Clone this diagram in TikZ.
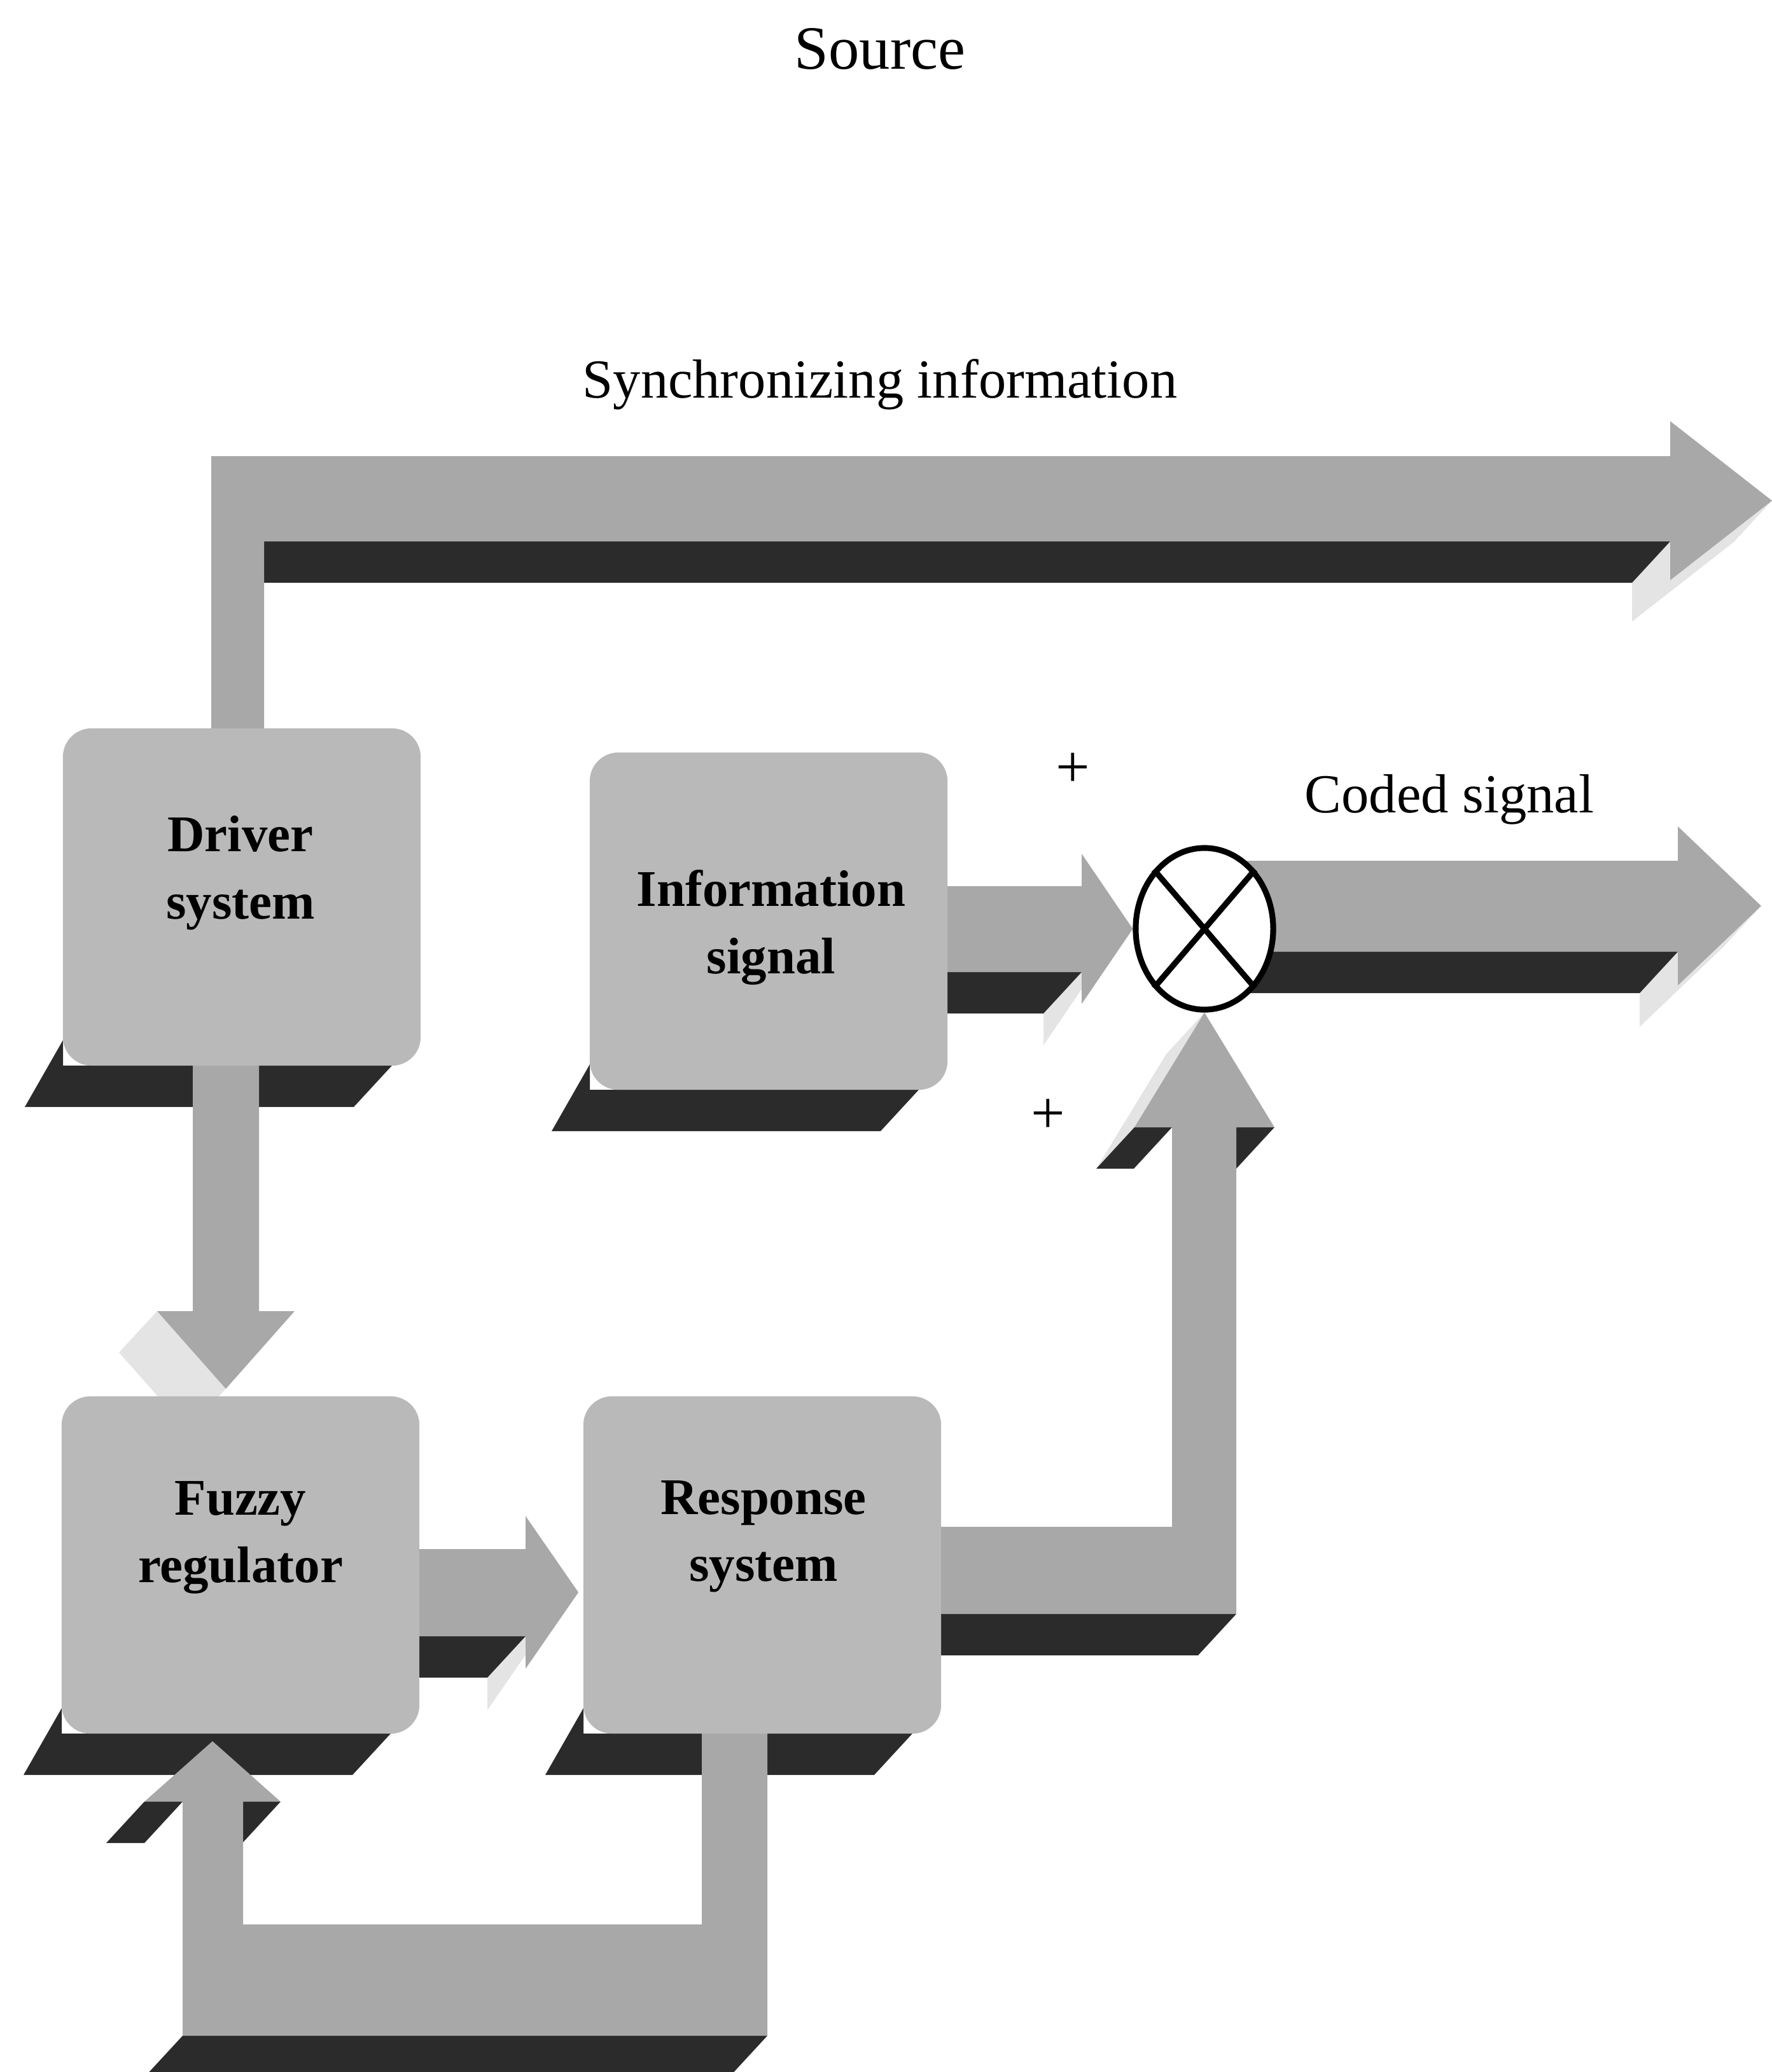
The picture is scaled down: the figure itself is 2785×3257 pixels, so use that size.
\documentclass[tikz,border=0pt]{standalone}
\usepackage{fontspec}
\setmainfont{Liberation Serif}
\usepackage{xcolor}
\usepackage{tikz}
\usetikzlibrary{shapes.geometric}
\definecolor{boxgrey}{HTML}{B9B9B9}
\definecolor{bandgrey}{HTML}{A8A8A8}
\definecolor{undergrey}{HTML}{2B2B2B}
\definecolor{litgrey}{HTML}{E4E4E4}
\pgfdeclarelayer{back}
\pgfdeclarelayer{mid}
\pgfsetlayers{back,mid,main}

\begin{document}
\begin{tikzpicture}[
  x=0.01cm, y=-0.01cm,
  box/.style={rectangle, rounded corners=0.45cm, fill=boxgrey, minimum width=5.62cm, minimum height=5.3cm, inner sep=0pt},
  lbl/.style={align=center, font=\fontsize{23}{30}\selectfont\bfseries},
  txt/.style={font=\fontsize{24.6}{30}\selectfont},
  mult/.style={ellipse, draw=black, line width=2.6pt, fill=white, minimum width=2.16cm, minimum height=2.54cm, inner sep=0pt},
  face/.style={fill=bandgrey},
  under/.style={fill=undergrey},
  lit/.style={fill=litgrey}
]
\useasboundingbox (0,0) rectangle (2785,3257);

\node[box] (drv) at (380,1410) {};
\node[box] (inf) at (1208,1448) {};
\node[box] (fuz) at (378,2460) {};
\node[box] (rsp) at (1198,2460) {};
\node[mult] (mul) at (1893,1460) {};
\draw[line width=2.6pt] (mul.north west) -- (mul.south east);
\draw[line width=2.6pt] (mul.north east) -- (mul.south west);

\node[lbl] (drvtxt) at (378,1372) {Driver\\system};
\node[lbl] (inftxt) at (1212,1458) {Information\\signal};
\node[lbl] (fuztxt) at (378,2417) {Fuzzy\\regulator};
\node[lbl] (rsptxt) at (1200,2415) {Response\\system};

\node[txt, font=\fontsize{27.5}{33}\selectfont] (src) at (1383,77) {Source};
\node[txt] (sync) at (1383,604) {Synchronizing information};
\node[txt] (coded) at (2278,1257) {Coded signal};
\node[txt, font=\fontsize{27}{30}\selectfont] (plusa) at (1686,1211) {+};
\node[txt, font=\fontsize{27}{30}\selectfont] (plusb) at (1647,1755) {+};

\begin{pgfonlayer}{back}
\fill[lit] (2625,851) -- (2625,912) -- (2785,787) -- (2725,852) -- (2565,977) -- (2565,916) -- cycle;
\fill[lit] (1700,1528) -- (1700,1578) -- (mul.west) -- ++(-60,65) -- (1640,1643) -- (1640,1593) -- cycle;
\fill[lit] (2637,1496) -- (2637,1549) -- (2768,1424) -- (2708,1489) -- (2577,1614) -- (2577,1561) -- cycle;
\fill[lit] (303,2061) -- (247,2061) -- (187,2126) -- (295,2248) -- (355,2183) -- cycle;
\fill[lit] (826,2572) -- (826,2623) -- (909,2503) -- (849,2568) -- (766,2688) -- (766,2637) -- cycle;
\fill[lit] (1783,1772) -- (mul.south) -- ++(-60,65) -- (1723,1837) -- cycle;
\fill[lit] (227,2832) -- (334,2737) -- (274,2802) -- (167,2897) -- cycle;

\fill[under] (99,1635) -- (99,1675) -- (616,1675) -- (556,1740) -- (39,1740) -- cycle;
\fill[under] (927,1673) -- (927,1713) -- (1444,1713) -- (1384,1778) -- (867,1778) -- cycle;
\fill[under] (97,2685) -- (97,2725) -- (614,2725) -- (554,2790) -- (37,2790) -- cycle;
\fill[under] (917,2685) -- (917,2725) -- (1434,2725) -- (1374,2790) -- (857,2790) -- cycle;

\fill[under] (332,851) -- (2625,851) -- (2565,916) -- (332,916) -- cycle;
\fill[under] (1470,1528) -- (1700,1528) -- (1640,1593) -- (1470,1593) -- cycle;
\fill[under] (1893,1496) -- (2637,1496) -- (2577,1561) -- (1893,1561) -- cycle;
\fill[under] (640,2572) -- (826,2572) -- (766,2637) -- (640,2637) -- cycle;
\fill[under] (1460,2537) -- (1943,2537) -- (1883,2602) -- (1460,2602) -- cycle;
\fill[under] (1783,1772) -- (1842,1772) -- (1782,1837) -- (1723,1837) -- cycle;
\fill[under] (1943,1772) -- (2003,1772) -- (1943,1837) -- (1883,1837) -- cycle;
\fill[under] (287,3200) -- (1206,3200) -- (1146,3265) -- (227,3265) -- cycle;
\fill[under] (227,2832) -- (287,2832) -- (227,2897) -- (167,2897) -- cycle;
\fill[under] (382,2832) -- (441,2832) -- (381,2897) -- (322,2897) -- cycle;
\end{pgfonlayer}

\begin{pgfonlayer}{mid}
\fill[face] (332,717) -- (2625,717) -- (2625,662) -- (2785,787) -- (2625,912) -- (2625,851) -- (415,851) -- (415,1200) -- (332,1200) -- cycle;
\fill[face] (303,1640) -- (407,1640) -- (407,2061) -- (463,2061) -- (355,2183) -- (247,2061) -- (303,2061) -- cycle;
\fill[face] (1470,1393) -- (1700,1393) -- (1700,1342) -- (mul.west) -- (1700,1578) -- (1700,1528) -- (1470,1528) -- cycle;
\fill[face] (1893,1353) -- (2637,1353) -- (2637,1299) -- (2768,1424) -- (2637,1549) -- (2637,1496) -- (1893,1496) -- cycle;
\fill[face] (640,2435) -- (826,2435) -- (826,2383) -- (909,2503) -- (826,2623) -- (826,2572) -- (640,2572) -- cycle;
\fill[face] (1460,2400) -- (1842,2400) -- (1842,1772) -- (1783,1772) -- (mul.south) -- (2003,1772) -- (1943,1772) -- (1943,2537) -- (1460,2537) -- cycle;
\fill[face] (1103,2700) -- (1206,2700) -- (1206,3200) -- (287,3200) -- (287,2832) -- (227,2832) -- (334,2737) -- (441,2832) -- (382,2832) -- (382,3025) -- (1103,3025) -- cycle;
\end{pgfonlayer}
\end{tikzpicture}
\end{document}
